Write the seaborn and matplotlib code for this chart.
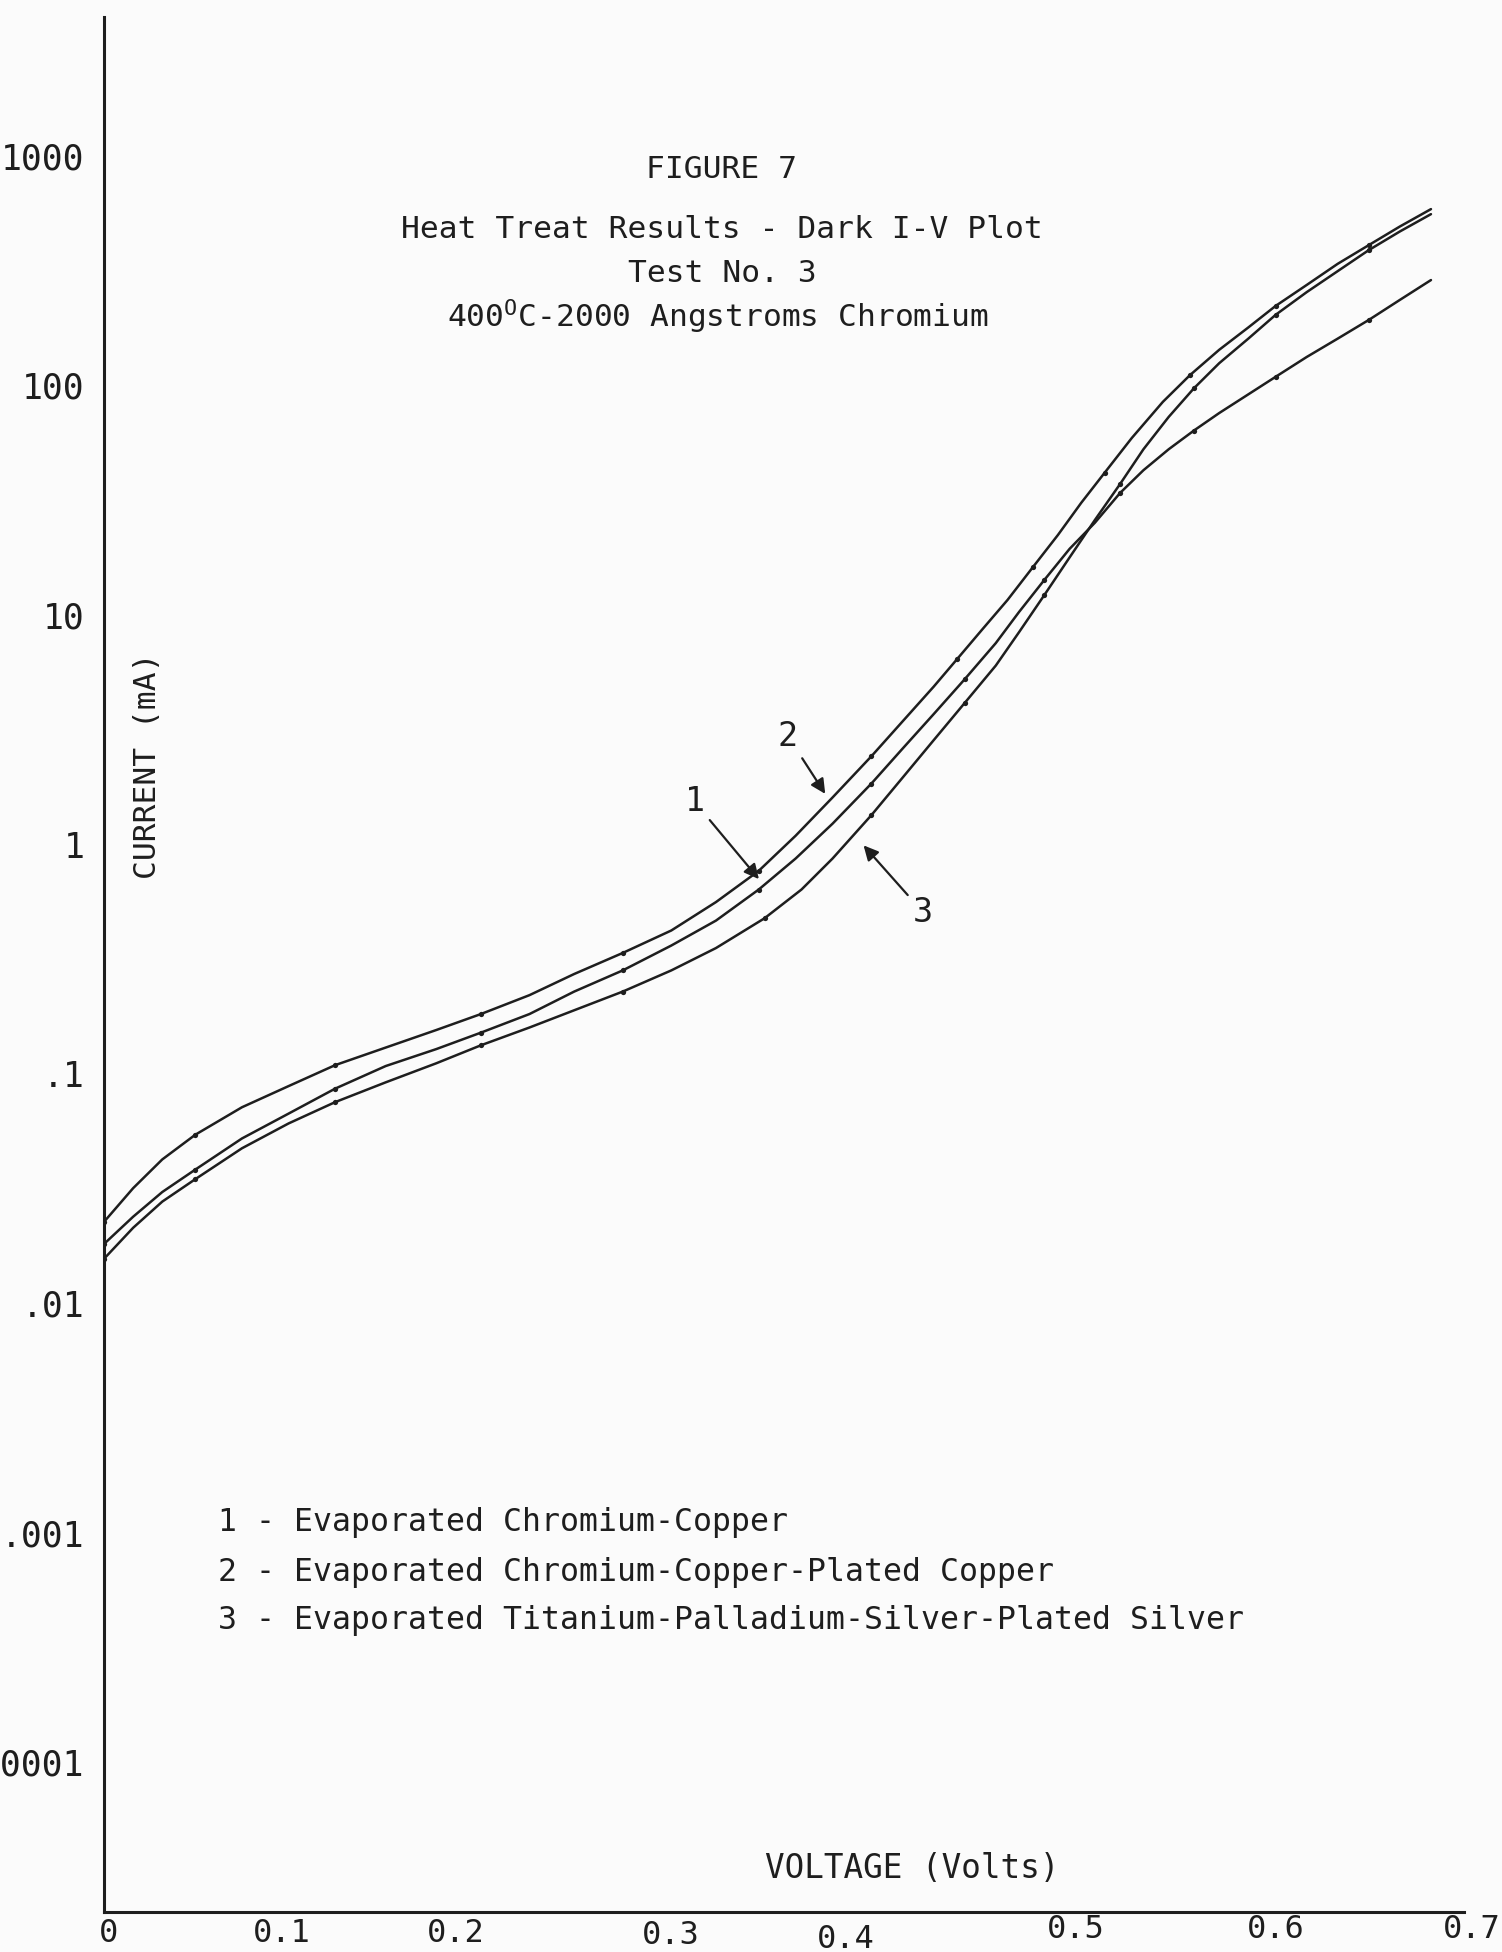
import numpy as np
import pandas as pd
import matplotlib
matplotlib.use("Agg")
import matplotlib.pyplot as plt
import matplotlib.transforms as mtrans
import seaborn as sns

# ---------------- data ----------------
# curve A: top curve at low voltage, ends near 590 mA
vA = [0.0, 0.015, 0.030, 0.047, 0.071, 0.095, 0.119, 0.145, 0.171, 0.194,
      0.219, 0.242, 0.267, 0.292, 0.315, 0.337, 0.356, 0.375, 0.395, 0.411,
      0.427, 0.439, 0.452, 0.465, 0.478, 0.491, 0.503, 0.515, 0.529, 0.545,
      0.559, 0.574, 0.589, 0.603, 0.619, 0.635, 0.651, 0.667, 0.683]
iA = [0.0226, 0.0317, 0.0423, 0.0542, 0.0714, 0.0883, 0.109, 0.130, 0.155, 0.182,
      0.220, 0.272, 0.336, 0.421, 0.560, 0.766, 1.09, 1.60, 2.42, 3.43,
      4.86, 6.40, 8.63, 11.6, 16.1, 22.3, 30.8, 41.6, 59.0, 84.8,
      111, 143, 179, 222, 274, 339, 409, 493, 587]
# curve B: middle curve at low voltage, ends near 290 mA
vB = [0.0, 0.015, 0.030, 0.047, 0.071, 0.095, 0.119, 0.145, 0.171, 0.194,
      0.219, 0.242, 0.267, 0.292, 0.315, 0.337, 0.356, 0.375, 0.395, 0.411,
      0.427, 0.443, 0.459, 0.471, 0.484, 0.497, 0.510, 0.523, 0.535, 0.548,
      0.561, 0.574, 0.587, 0.603, 0.619, 0.635, 0.651, 0.667, 0.683]
iB = [0.0181, 0.0238, 0.0305, 0.0382, 0.0522, 0.0670, 0.0861, 0.108, 0.128, 0.151,
      0.182, 0.228, 0.282, 0.362, 0.465, 0.635, 0.867, 1.23, 1.84, 2.61,
      3.69, 5.24, 7.53, 10.3, 14.2, 19.4, 25.2, 34.0, 42.7, 52.7,
      63.6, 75.8, 89.2, 109, 133, 160, 193, 236, 288]
# curve C: bottom curve at low voltage, ends near 560 mA
vC = [0.0, 0.015, 0.030, 0.047, 0.071, 0.095, 0.119, 0.145, 0.171, 0.194,
      0.219, 0.242, 0.267, 0.292, 0.315, 0.340, 0.359, 0.375, 0.395, 0.411,
      0.427, 0.443, 0.459, 0.471, 0.484, 0.497, 0.510, 0.523, 0.535, 0.548,
      0.561, 0.574, 0.589, 0.603, 0.619, 0.635, 0.651, 0.667, 0.683]
iC = [0.0156, 0.0213, 0.0277, 0.0347, 0.0473, 0.0607, 0.0752, 0.0917, 0.111, 0.133,
      0.159, 0.189, 0.228, 0.282, 0.353, 0.476, 0.635, 0.867, 1.34, 1.95,
      2.84, 4.13, 6.01, 8.41, 12.2, 17.8, 25.9, 37.2, 52.7, 72.9,
      97.2, 125, 160, 203, 255, 315, 389, 469, 558]

ytick_vals = [1e-4, 1e-3, 1e-2, 1e-1, 1, 10, 100, 1000]
ytick_labels = [".0001", ".001", ".01", ".1", "1", "10", "100", "1000"]
xtick_vals = [0, 0.1, 0.2, 0.3, 0.4, 0.5, 0.6, 0.7]
xtick_labels = ["0", "0.1", "0.2", "0.3", "0.4", "0.5", "0.6", "0.7"]

title_lines = ["FIGURE 7",
               "Heat Treat Results - Dark I-V Plot",
               "Test No. 3",
               r"400$^{\mathrm{O}}$C-2000 Angstroms Chromium"]
legend_lines = ["1 - Evaporated Chromium-Copper",
                "2 - Evaporated Chromium-Copper-Plated Copper",
                "3 - Evaporated Titanium-Palladium-Silver-Plated Silver"]

# hand-typed tick label offsets (pixels: right, down)
xlabel_offsets = [(5, -4), (-17, -4), (-37, -4), (-16, -2), (-35, 2),
                  (0, -8), (6, -8), (8, -8)]

# ---------------- style ----------------
sns.set_theme(style="white")
plt.rcParams["font.family"] = ["DejaVu Sans Mono", "DejaVu Sans"]
plt.rcParams["mathtext.fontset"] = "custom"
plt.rcParams["mathtext.rm"] = "DejaVu Sans Mono"
plt.rcParams["mathtext.it"] = "DejaVu Sans Mono"

ink = "#1e1e1e"
bg = "#fbfbfb"
W, H = 1502, 1952

fig = plt.figure(figsize=(W / 100, H / 100), dpi=100, facecolor=bg)
ax = fig.add_axes([104 / W, 40 / H, 1360 / W, 1895 / H], facecolor=bg)

for v, i in [(vA, iA), (vB, iB), (vC, iC)]:
    df = pd.DataFrame({"V": v, "I": i})
    sns.lineplot(data=df, x="V", y="I", ax=ax, color=ink, lw=1.8,
                 sort=False, estimator=None, marker="o", markersize=3.8,
                 markeredgewidth=0, markevery=3)

ax.set_yscale("log")
ax.set_xlim(0, 0.7)
ax.set_ylim(10 ** -4.654, 10 ** 3.606)
ax.set_yticks(ytick_vals)
ax.set_yticklabels(ytick_labels)
ax.set_xticks(xtick_vals)
ax.set_xticklabels(xtick_labels)
ax.minorticks_off()
ax.set_xlabel("")
ax.set_ylabel("")
ax.tick_params(axis="y", direction="inout", length=16, width=2, colors=ink,
               labelsize=25, pad=6)
ax.tick_params(axis="x", direction="inout", length=10, width=1.5, colors=ink,
               labelsize=23, pad=2)
for s in ["top", "right"]:
    ax.spines[s].set_visible(False)
for s in ["left", "bottom"]:
    ax.spines[s].set_color(ink)
    ax.spines[s].set_linewidth(2.2)

for tick, (dx, dy) in zip(ax.xaxis.get_major_ticks(), xlabel_offsets):
    lab = tick.label1
    lab.set_transform(lab.get_transform() +
                      mtrans.ScaledTranslation(dx / 100, -dy / 100,
                                               fig.dpi_scale_trans))

# ---------------- texts ----------------
def fx(px):
    return px / W


def fy(py):
    return 1 - py / H


fig.text(fx(722), fy(170), title_lines[0], ha="center", va="center",
         fontsize=22.5, color=ink)
fig.text(fx(722), fy(230), title_lines[1], ha="center", va="center",
         fontsize=22.5, color=ink)
fig.text(fx(722), fy(274), title_lines[2], ha="center", va="center",
         fontsize=22.5, color=ink)
fig.text(fx(718), fy(317), title_lines[3], ha="center", va="center",
         fontsize=22.5, color=ink)

for k, y in enumerate([1523, 1572, 1620]):
    fig.text(fx(218), fy(y), legend_lines[k], ha="left", va="center",
             fontsize=22.7, color=ink)

fig.text(fx(912), fy(1868), "VOLTAGE (Volts)", ha="center", va="center",
         fontsize=23.5, color=ink)
fig.text(fx(147), fy(766), "CURRENT (mA)", ha="center", va="center",
         rotation=90, fontsize=22.5, color=ink)

arrow = dict(arrowstyle="-|>", color=ink, lw=1.6, mutation_scale=22)
ax.annotate("1", xy=(0.338, 0.69), xytext=(0.304, 1.53), ha="center",
            va="center", fontsize=24, color=ink, arrowprops=arrow)
ax.annotate("2", xy=(0.372, 1.62), xytext=(0.352, 2.96), ha="center",
            va="center", fontsize=24, color=ink, arrowprops=arrow)
ax.annotate("3", xy=(0.390, 1.01), xytext=(0.4215, 0.506), ha="center",
            va="center", fontsize=24, color=ink, arrowprops=arrow)

fig.savefig("out.png", dpi=100, facecolor=bg)
